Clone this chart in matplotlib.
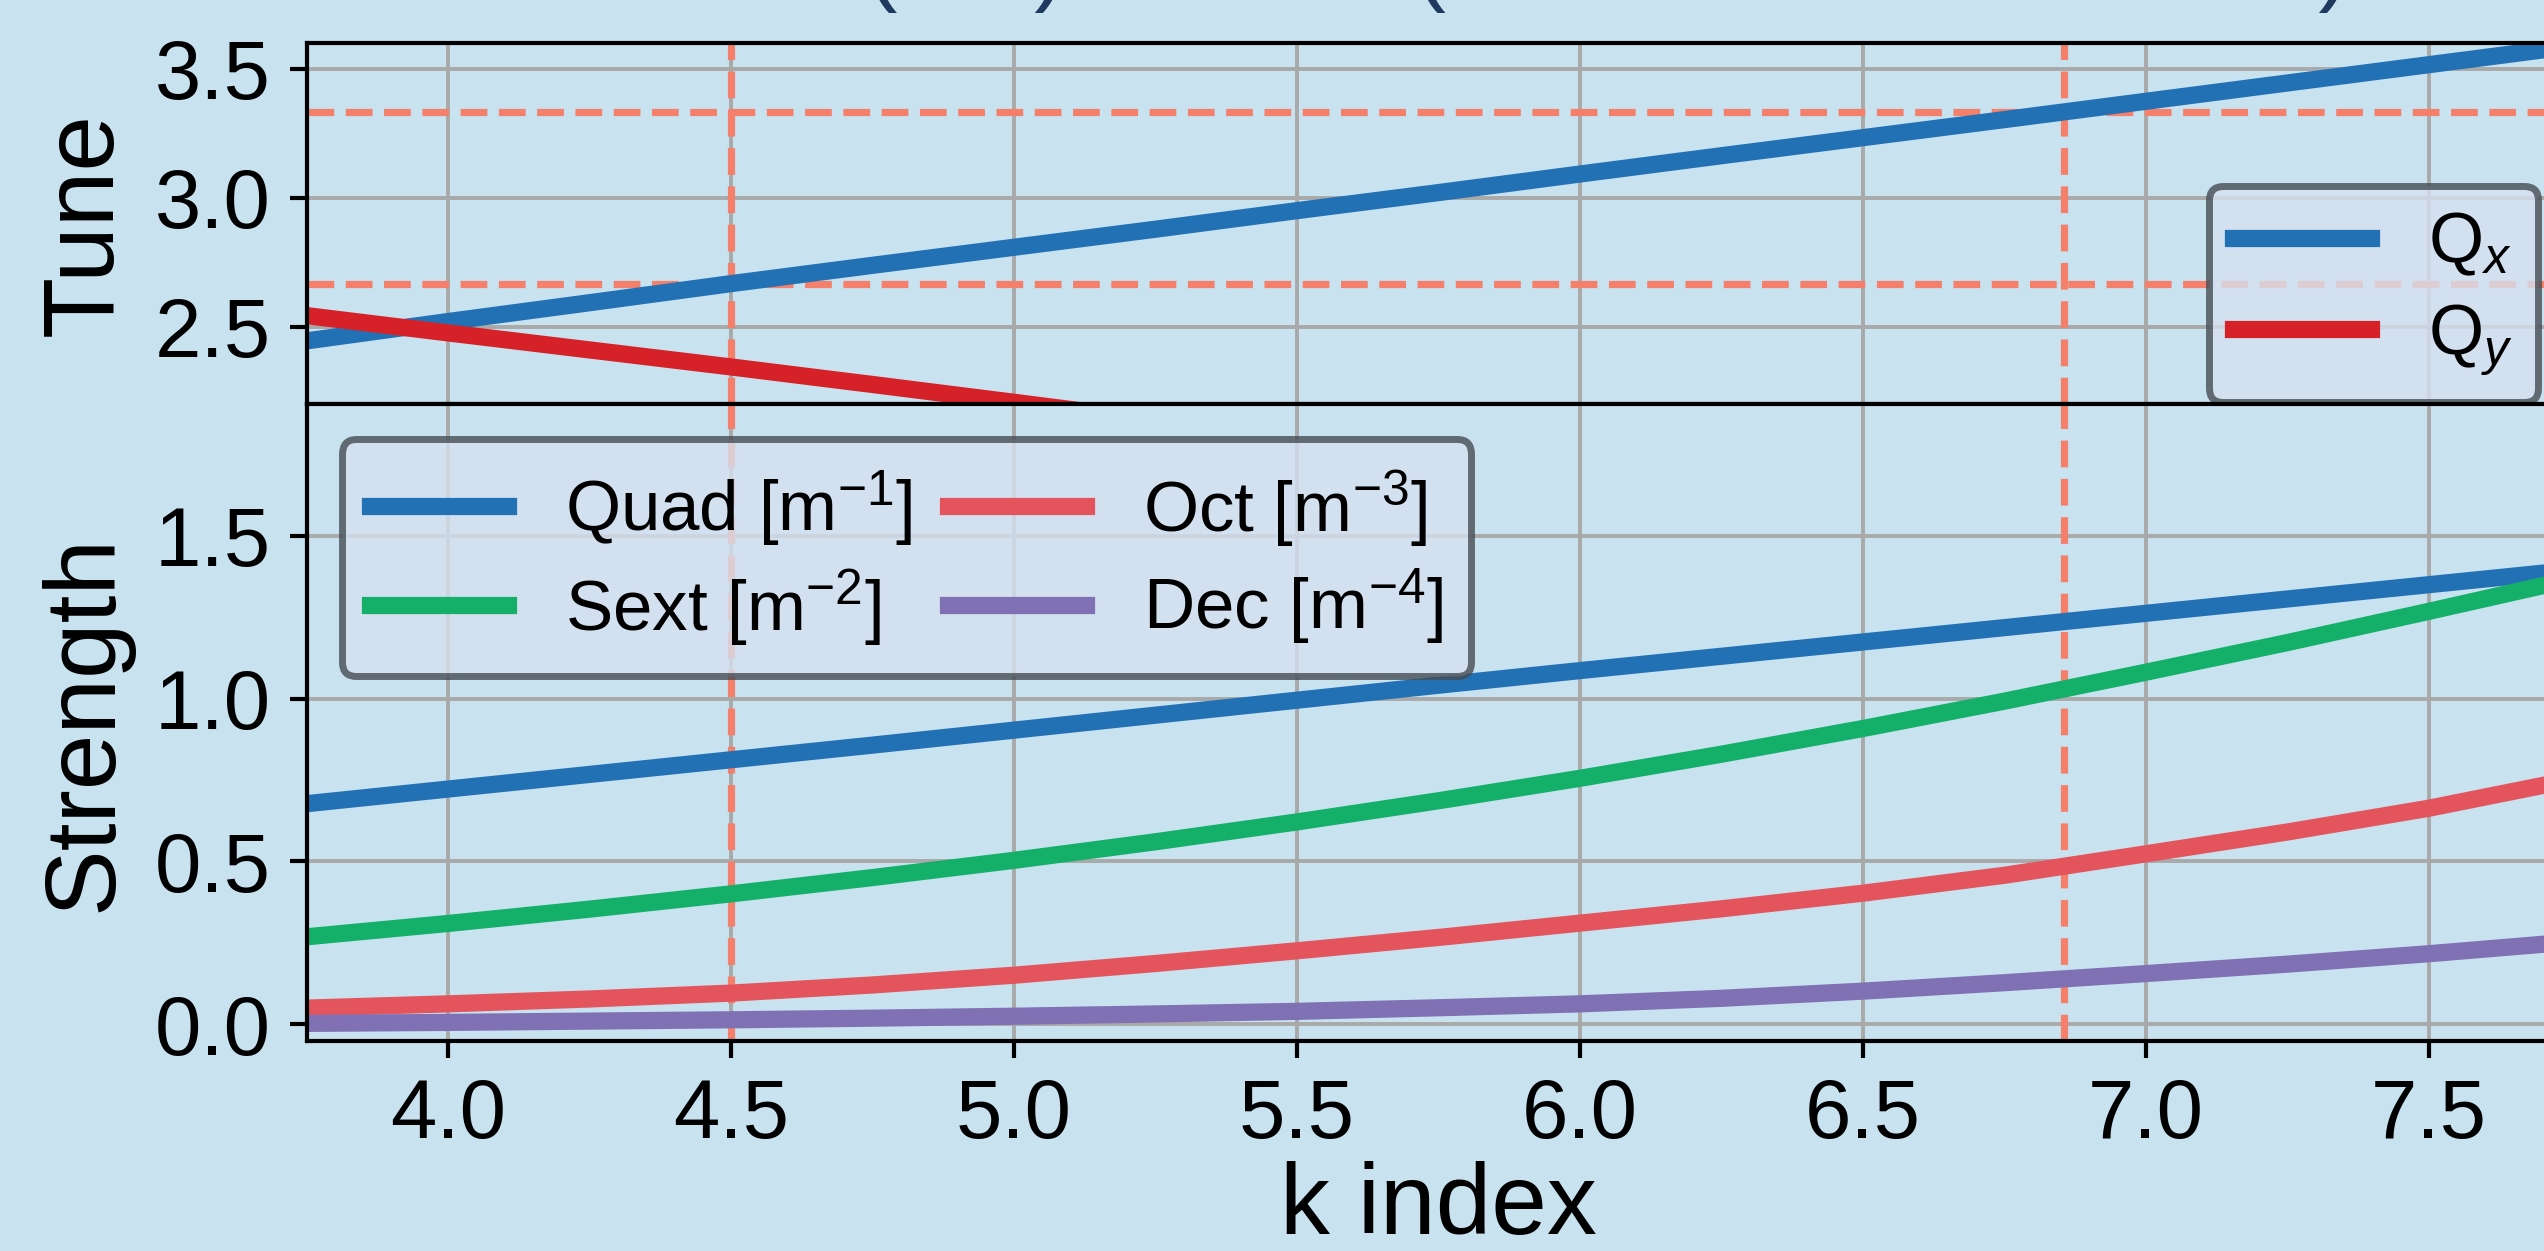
import matplotlib
matplotlib.use('Agg')
import matplotlib.pyplot as plt

plt.rcParams['font.family'] = ['Liberation Sans', 'DejaVu Sans']
plt.rcParams['mathtext.fontset'] = 'custom'
plt.rcParams['mathtext.rm'] = 'Liberation Sans'
plt.rcParams['mathtext.it'] = 'Liberation Sans:italic'

# k scan
k = [3.75, 4.0, 4.25, 4.5, 4.75, 5.0, 5.25, 5.5, 5.75, 6.0, 6.25, 6.5, 6.75, 7.0, 7.25, 7.5, 7.75]
tune_x = [2.445, 2.52, 2.593, 2.667, 2.738, 2.808, 2.878, 2.95, 3.02, 3.092, 3.163, 3.233, 3.303,
          3.374, 3.445, 3.516, 3.587]
tune_y = [2.543, 2.476, 2.41, 2.344, 2.276, 2.207, 2.137, 2.066, 1.995, 1.923, 1.85, 1.777, 1.703,
          1.628, 1.553, 1.477, 1.4]

quad = [0.677, 0.722, 0.767, 0.812, 0.857, 0.903, 0.949, 0.995, 1.041, 1.086, 1.13, 1.174, 1.218,
        1.262, 1.306, 1.35, 1.394]
sext = [0.268, 0.309, 0.353, 0.4, 0.45, 0.503, 0.56, 0.621, 0.686, 0.755, 0.829, 0.908, 0.992,
        1.081, 1.172, 1.268, 1.366]
octu = [0.049, 0.062, 0.077, 0.095, 0.12, 0.15, 0.186, 0.225, 0.266, 0.31, 0.354, 0.402, 0.457,
        0.523, 0.59, 0.663, 0.75]
deca = [0.002, 0.005, 0.009, 0.013, 0.018, 0.024, 0.031, 0.039, 0.05, 0.062, 0.079, 0.101, 0.127,
        0.155, 0.184, 0.216, 0.252]

# resonances (8/3, 10/3) and where Qx hits them
res_tunes = [2.6667, 3.3333]
res_k = [4.5, 6.855]

bg = '#c8e2f0'
res_col = '#f4806c'

fig = plt.figure(figsize=(12.72, 6.255), dpi=200, facecolor=bg)
ax1 = fig.add_axes([0.1205, 0.677, 0.8898, 0.2886], facecolor=bg)
ax2 = fig.add_axes([0.1205, 0.1679, 0.8898, 0.5091], facecolor=bg, sharex=ax1)

fig.text(0.247, 1.0056, 'Tune (rad) and KL (normalised at each k)', fontsize=34,
         color='#1e3a5f', ha='left', va='baseline')

for ax in (ax1, ax2):
    for kk in res_k:
        ax.axvline(kk, color=res_col, ls='--', lw=2.6)
    ax.grid(True, color='#a9a9a9', lw=1.4)
    ax.set_axisbelow(True)
    for s in ax.spines.values():
        s.set_linewidth(1.5)
    ax.tick_params(labelsize=30, length=6, width=1.5, pad=7)

for t in res_tunes:
    ax1.axhline(t, color=res_col, ls='--', lw=2.6)

ax1.plot(k, tune_x, color='#2271b5', lw=6.2, label='Q$_x$')
ax1.plot(k, tune_y, color='#d62128', lw=6.2, label='Q$_y$')
ax1.set_ylim(2.2, 3.6)
ax1.set_yticks([2.5, 3.0, 3.5])
ax1.set_ylabel('Tune', fontsize=36)
ax1.yaxis.set_label_coords(-0.077, 0.5)
ax1.tick_params(axis='x', labelbottom=False)

ax2.plot(k, quad, color='#2271b5', lw=6.2, label='Quad [m$^{-1}$]')
ax2.plot(k, sext, color='#14b06a', lw=6.2, label='Sext [m$^{-2}$]')
ax2.plot(k, octu, color='#e4545c', lw=6.2, label='Oct [m$^{-3}$]')
ax2.plot(k, deca, color='#8070b4', lw=6.2, label='Dec [m$^{-4}$]')
ax2.set_ylim(-0.052, 1.905)
ax2.set_yticks([0.0, 0.5, 1.0, 1.5])
ax2.set_xlim(3.75, 7.75)
ax2.set_xticks([4.0, 4.5, 5.0, 5.5, 6.0, 6.5, 7.0, 7.5])
ax2.set_ylabel('Strength', fontsize=36)
ax2.yaxis.set_label_coords(-0.077, 0.5)
ax2.set_xlabel('k index', fontsize=36, labelpad=2)

leg1 = ax1.legend(loc='center right', bbox_to_anchor=(2538 / 2544, 1 - 294 / 1251),
                  bbox_transform=fig.transFigure, borderaxespad=0, fontsize=25.5,
                  handlelength=1.95, labelspacing=0.34, borderpad=0.35,
                  facecolor='#d6e0ef', edgecolor='#454c54', framealpha=0.8)
leg1.get_frame().set_linewidth(2.5)

leg2 = ax2.legend(loc='upper left', ncol=2, fontsize=25.5, handlelength=1.95, labelspacing=0.25,
                  columnspacing=0.5, facecolor='#d6e0ef', edgecolor='#454c54', framealpha=0.8)
leg2.get_frame().set_linewidth(2.5)

fig.savefig('out.png', dpi=200, facecolor=bg)
